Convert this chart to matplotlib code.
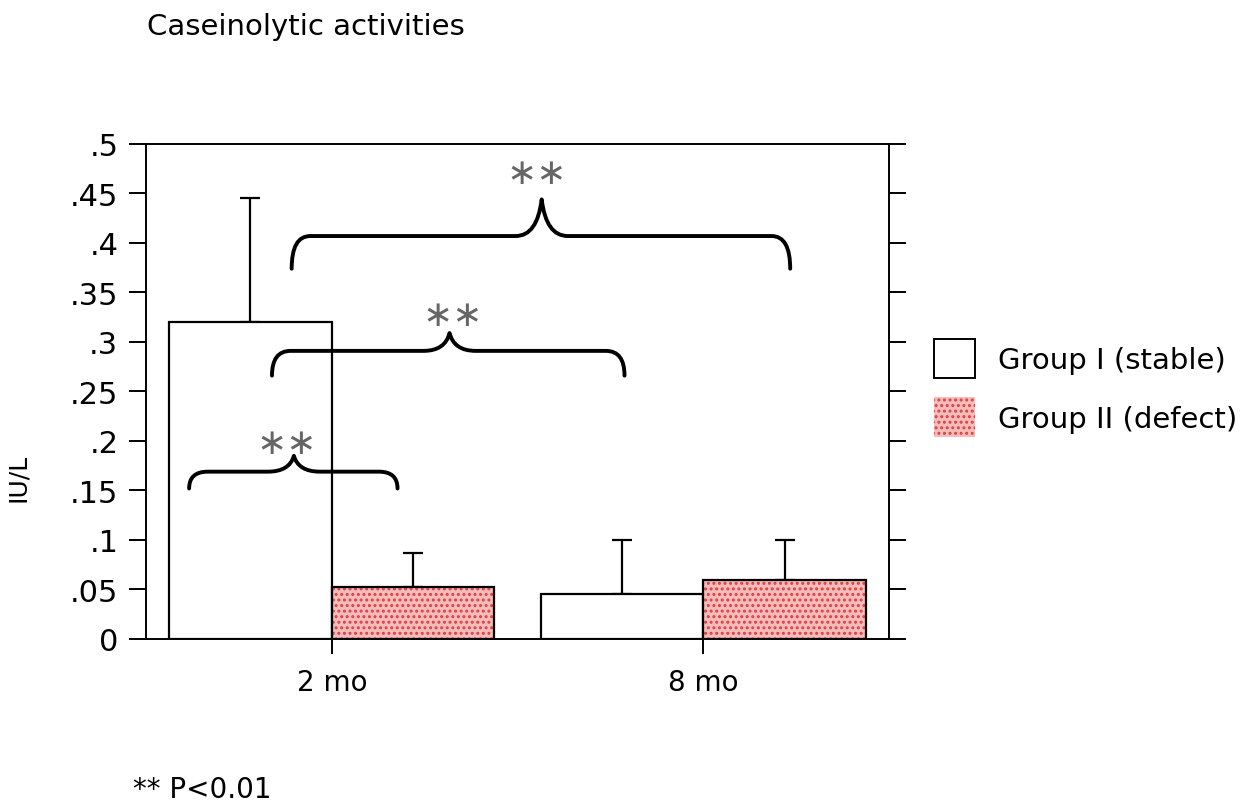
import numpy as np
import matplotlib
matplotlib.use("Agg")
from matplotlib import pyplot as plt
from matplotlib.path import Path
from matplotlib.patches import PathPatch, Patch

# data
months = ["2 mo", "8 mo"]
group1 = [0.32, 0.045]          # Group I (stable)
group1_err = [0.125, 0.055]
group2 = [0.053, 0.06]          # Group II (defect)
group2_err = [0.034, 0.04]
yticks = [0, .05, .1, .15, .2, .25, .3, .35, .4, .45, .5]
ytick_labels = ["0", ".05", ".1", ".15", ".2", ".25", ".3", ".35", ".4", ".45", ".5"]

# braces: (left x, right x, peak x, y of ends, y of bar, y of peak)
braces = [(-0.384, 0.177, -0.102, 0.152, 0.169, 0.185),
          (-0.161, 0.788, 0.317, 0.266, 0.291, 0.309),
          (-0.108, 1.234, 0.565, 0.374, 0.407, 0.444)]
star_pos = [(-0.121, 0.198), (0.325, 0.327), (0.551, 0.471)]

plt.rcParams['font.family'] = ['DejaVu Sans']
plt.rcParams['hatch.linewidth'] = 1.4

fig = plt.figure(figsize=(12.46, 8.04), dpi=100)
ax = fig.add_axes([0.1172, 0.2040, 0.5963, 0.6157])

x = np.arange(len(months))
w = 0.438
pink = "#f5bcbc"
dots = "#de4040"

# Group I: white bars
ax.bar(x - w / 2, group1, w, color="white", edgecolor="black", linewidth=1.6, zorder=2)
ax.errorbar(x - w / 2, group1, yerr=[np.zeros(2), group1_err], fmt="none",
            ecolor="black", elinewidth=1.6, capsize=7, capthick=1.6, zorder=1)

# Group II: pink dotted bars
ax.bar(x + w / 2, group2, w, color=pink, edgecolor=dots, hatch="...",
       linewidth=0, zorder=2)
ax.bar(x + w / 2, group2, w, fill=False, edgecolor="black", linewidth=1.6, zorder=3)
ax.errorbar(x + w / 2, group2, yerr=[np.zeros(2), group2_err], fmt="none",
            ecolor="black", elinewidth=1.6, capsize=7, capthick=1.6, zorder=1)


def brace(x0, x1, xm, ye, yh, yp, rx=0.05, rp=0.07):
	verts = [(x0, ye), (x0, yh), (x0 + rx, yh),
	         (xm - rp, yh),
	         (xm - 0.012, yh), (xm, yp),
	         (xm + 0.012, yh), (xm + rp, yh),
	         (x1 - rx, yh),
	         (x1, yh), (x1, ye)]
	codes = [Path.MOVETO, Path.CURVE3, Path.CURVE3,
	         Path.LINETO,
	         Path.CURVE3, Path.CURVE3,
	         Path.CURVE3, Path.CURVE3,
	         Path.LINETO,
	         Path.CURVE3, Path.CURVE3]
	return PathPatch(Path(verts, codes), fill=False, lw=2.8, color="black",
	                 capstyle="round", joinstyle="round", zorder=4)


for b in braces:
	ax.add_patch(brace(*b))
for sx, sy in star_pos:
	ax.text(sx, sy, "∗∗", ha="center", va="center", fontsize=26, color="#666666")

ax.set_xlim(-0.5, 1.5)
ax.set_ylim(0, 0.5)
ax.set_xticks(x)
ax.set_xticklabels(months, fontsize=20)
ax.set_yticks(yticks)
ax.set_yticklabels(ytick_labels, fontsize=22)
ax.tick_params(axis="y", direction="out", length=12, width=1.4, right=True, pad=8)
ax.tick_params(axis="x", direction="out", length=11, width=1.4, pad=10)
for s in ax.spines.values():
	s.set_linewidth(1.4)
ax.set_ylabel("IU/L", fontsize=18)
ax.yaxis.set_label_coords(-0.156, 0.327)

handles = [Patch(facecolor="white", edgecolor="black", linewidth=1.4),
           Patch(facecolor=pink, edgecolor=dots, hatch="...", linewidth=0)]
leg = fig.legend(handles, ["Group I (stable)", "Group II (defect)"],
                 loc="upper left", bbox_to_anchor=(0.7496, 0.5771), frameon=False,
                 fontsize=21, handlelength=1.4, handleheight=1.7, labelspacing=0.65,
                 handletextpad=0.8, borderpad=0, borderaxespad=0)

fig.text(0.118, 0.966, "Caseinolytic activities", fontsize=21, va="center")
fig.text(0.107, 0.017, "** P<0.01", fontsize=20, va="center")

fig.savefig("out.png", dpi=100)
